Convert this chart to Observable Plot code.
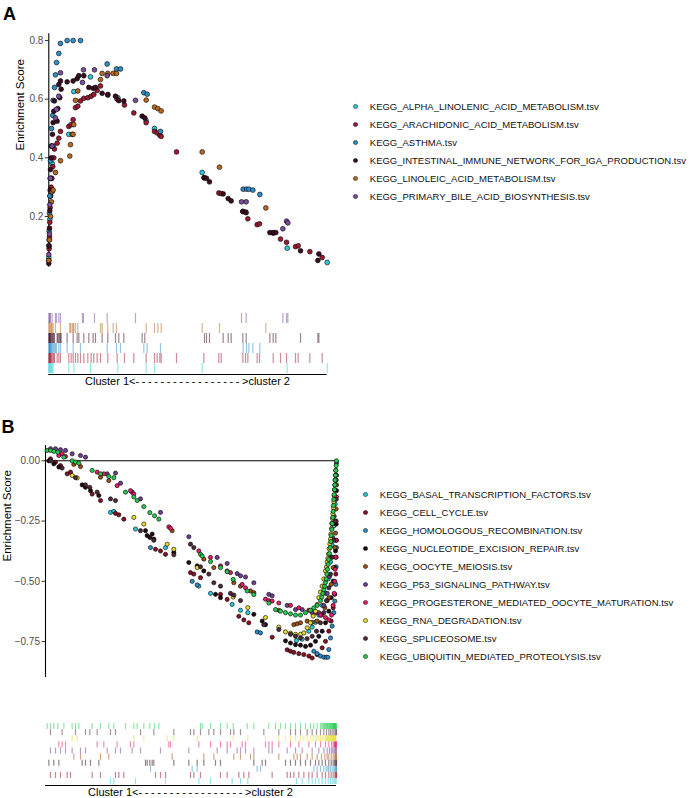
<!DOCTYPE html>
<html><head><meta charset="utf-8">
<script src="https://cdn.jsdelivr.net/npm/d3@7"></script>
<script src="https://cdn.jsdelivr.net/npm/@observablehq/plot@0.6"></script>
<style>
body{margin:0;background:#fff;}
#root{position:relative;width:692px;height:798px;overflow:hidden;font-family:"Liberation Sans",Arial,sans-serif;}
#root svg{position:absolute;overflow:visible;}
.panel{position:absolute;font-weight:bold;font-size:18px;line-height:18px;color:#000;}
.clabel{position:absolute;font-size:11px;line-height:11px;white-space:nowrap;transform:translate(-50%,-50%);color:#000;}
.clabel span{letter-spacing:2.6px;}
</style></head><body><div id="root"></div>
<script>
// ---------- Panel A data: [rank, enrichment score] at each hit ----------
const namesA = [
  "KEGG_ALPHA_LINOLENIC_ACID_METABOLISM.tsv",
  "KEGG_ARACHIDONIC_ACID_METABOLISM.tsv",
  "KEGG_ASTHMA.tsv",
  "KEGG_INTESTINAL_IMMUNE_NETWORK_FOR_IGA_PRODUCTION.tsv",
  "KEGG_LINOLEIC_ACID_METABOLISM.tsv",
  "KEGG_PRIMARY_BILE_ACID_BIOSYNTHESIS.tsv"
];
const colorsA = ["#2ccbdc","#9e1a32","#2f8ec6","#3a0d22","#b8681f","#7b4d9c"];
const alphaLinolenic = [[0,0.06],[1,0.12],[3,0.19],[5,0.27],[8,0.33],[10,0.38],[13,0.44],[60,0.48],[75,0.626],[125,0.676],[207,0.605],[292,0.527],[317,0.50],[460,0.35],[715,0.092],[835,0.043]];
const arachidonic = [[0,0.05],[1,0.09],[2,0.13],[3,0.18],[4,0.23],[5,0.27],[7,0.30],[9,0.33],[12,0.37],[15,0.40],[17,0.43],[25,0.45],[30,0.467],[35,0.49],[60,0.507],[67,0.513],[73,0.53],[80,0.571],[87,0.576],[95,0.594],[105,0.603],[117,0.605],[127,0.61],[135,0.616],[145,0.63],[155,0.645],[177,0.616],[205,0.60],[227,0.58],[255,0.553],[292,0.52],[317,0.49],[325,0.485],[333,0.477],[337,0.473],[383,0.42],[465,0.332],[510,0.28],[517,0.278],[582,0.217],[590,0.215],[597,0.192],[625,0.172],[632,0.175],[673,0.143],[695,0.123],[713,0.112],[740,0.097],[748,0.1],[783,0.08],[820,0.06]];
const asthma = [[0,0.10],[1,0.15],[2,0.21],[3,0.27],[4,0.33],[5,0.39],[7,0.44],[8,0.50],[12,0.545],[13,0.596],[17,0.64],[20,0.683],[23,0.725],[30,0.756],[35,0.79],[55,0.80],[73,0.80],[95,0.80],[175,0.72],[203,0.703],[215,0.703],[285,0.622],[295,0.617],[335,0.49],[583,0.293],[593,0.293],[600,0.293],[612,0.29],[633,0.275]];
const intestinal = [[0,0.04],[1,0.10],[2,0.16],[3,0.22],[4,0.29],[5,0.36],[7,0.40],[9,0.44],[11,0.48],[13,0.52],[15,0.559],[17,0.594],[25,0.525],[27,0.568],[30,0.65],[33,0.605],[35,0.662],[37,0.634],[55,0.659],[73,0.662],[85,0.67],[90,0.68],[105,0.68],[120,0.64],[133,0.637],[140,0.64],[160,0.62],[177,0.614],[200,0.61],[210,0.595],[225,0.594],[280,0.542],[288,0.536],[467,0.332],[473,0.33],[482,0.318],[523,0.277],[538,0.261],[547,0.253],[582,0.217],[592,0.213],[663,0.145],[673,0.145],[681,0.145],[755,0.083],[807,0.05],[810,0.072]];
const linoleic = [[0,0.05],[2,0.12],[5,0.2],[8,0.25],[10,0.284],[13,0.29],[20,0.35],[35,0.39],[63,0.406],[65,0.445],[70,0.48],[73,0.48],[75,0.513],[80,0.596],[87,0.628],[155,0.667],[160,0.688],[177,0.688],[193,0.688],[203,0.688],[292,0.597],[317,0.573],[327,0.568],[337,0.56],[460,0.42],[512,0.368],[651,0.229]];
const primaryBile = [[0,0.07],[2,0.14],[3,0.24],[5,0.33],[10,0.44],[20,0.536],[23,0.565],[30,0.61],[35,0.69],[101,0.657],[104,0.70],[137,0.70],[175,0.68],[260,0.596],[578,0.25],[592,0.25],[702,0.158],[713,0.184],[717,0.178]];
const seriesA = [alphaLinolenic, arachidonic, asthma, intestinal, linoleic, primaryBile];
const ticksA = [0.2, 0.4, 0.6, 0.8];

// ---------- Panel B data ----------
const namesB = [
  "KEGG_BASAL_TRANSCRIPTION_FACTORS.tsv",
  "KEGG_CELL_CYCLE.tsv",
  "KEGG_HOMOLOGOUS_RECOMBINATION.tsv",
  "KEGG_NUCLEOTIDE_EXCISION_REPAIR.tsv",
  "KEGG_OOCYTE_MEIOSIS.tsv",
  "KEGG_P53_SIGNALING_PATHWAY.tsv",
  "KEGG_PROGESTERONE_MEDIATED_OOCYTE_MATURATION.tsv",
  "KEGG_RNA_DEGRADATION.tsv",
  "KEGG_SPLICEOSOME.tsv",
  "KEGG_UBIQUITIN_MEDIATED_PROTEOLYSIS.tsv"
];
const colorsB = ["#28c9dc","#8a1024","#2b8dc9","#1f0a13","#9e4f14","#6d3f8e","#ee1868","#e8db2a","#4e2a3c","#22cc4e"];
const basal = [[195,-0.214],[205,-0.21],[270,-0.283],[360,-0.36],[460,-0.52],[495,-0.55],[560,-0.596],[585,-0.62],[607,-0.63],[753,-0.746],[770,-0.74],[790,-0.707],[800,-0.69],[810,-0.67],[820,-0.64],[830,-0.6],[840,-0.55],[848,-0.49],[855,-0.42],[860,-0.35],[865,-0.27],[869,-0.18],[872,-0.08]];
const cellCycle = [[15,0.008],[30,-0.006],[45,-0.02],[65,-0.054],[75,-0.047],[140,-0.138],[165,-0.165],[210,-0.218],[220,-0.224],[235,-0.242],[330,-0.367],[345,-0.374],[360,-0.388],[435,-0.464],[445,-0.47],[465,-0.485],[525,-0.554],[545,-0.575],[580,-0.645],[595,-0.66],[610,-0.672],[680,-0.732],[725,-0.784],[735,-0.79],[745,-0.795],[760,-0.8],[775,-0.804],[790,-0.81],[800,-0.818],[815,-0.804],[830,-0.776],[840,-0.749],[850,-0.707],[857,-0.665],[863,-0.61],[868,-0.554],[871,-0.47],[872,-0.4],[873,-0.33]];
const homologous = [[315,-0.36],[440,-0.5],[455,-0.515],[635,-0.71],[645,-0.714],[805,-0.79],[815,-0.8],[825,-0.81],[835,-0.815],[842,-0.815],[847,-0.815],[850,-0.783],[855,-0.735],[860,-0.686],[865,-0.63],[868,-0.582],[871,-0.513],[872,-0.44],[873,-0.36]];
const nucleotide = [[10,0],[25,-0.0125],[40,-0.026],[110,-0.1],[120,-0.11],[135,-0.124],[160,-0.144],[300,-0.29],[305,-0.31],[313,-0.318],[320,-0.304],[325,-0.325],[385,-0.38],[430,-0.422],[455,-0.436],[475,-0.457],[510,-0.554],[525,-0.568],[625,-0.637],[650,-0.665],[660,-0.68],[720,-0.747],[735,-0.756],[750,-0.763],[765,-0.765],[780,-0.77],[795,-0.765],[810,-0.749],[820,-0.728],[830,-0.707],[840,-0.672],[850,-0.624],[857,-0.568],[863,-0.499],[867,-0.443],[870,-0.374],[872,-0.263],[873,-0.124]];
const oocyte = [[85,-0.015],[105,-0.024],[165,-0.068],[190,-0.082],[380,-0.29],[475,-0.408],[505,-0.443],[565,-0.506],[585,-0.52],[615,-0.54],[625,-0.547],[700,-0.62],[745,-0.68],[755,-0.676],[765,-0.672],[785,-0.665],[800,-0.67],[815,-0.665],[828,-0.64],[838,-0.61],[845,-0.58],[850,-0.568],[857,-0.513],[863,-0.443],[868,-0.36],[870,-0.3],[872,-0.2],[873,-0.1]];
const p53 = [[15,0.05],[30,0.05],[45,0.046],[60,0.043],[80,0.029],[105,0.022],[120,0.015],[185,-0.054],[210,-0.051],[225,-0.093],[260,-0.13],[285,-0.158],[345,-0.214],[430,-0.315],[515,-0.401],[545,-0.426],[575,-0.468],[585,-0.477],[600,-0.482],[625,-0.506],[670,-0.554],[680,-0.56],[725,-0.6],[750,-0.617],[770,-0.617],[800,-0.63],[820,-0.63],[835,-0.6],[845,-0.55],[852,-0.48],[858,-0.4],[862,-0.32],[866,-0.23],[869,-0.15],[871,-0.08],[873,-0.01]];
const progesterone = [[40,0.022],[50,0.029],[60,0.018],[155,-0.047],[175,-0.054],[215,-0.103],[255,-0.124],[265,-0.138],[370,-0.274],[375,-0.28],[460,-0.374],[495,-0.401],[525,-0.436],[545,-0.457],[555,-0.464],[590,-0.513],[600,-0.527],[660,-0.574],[670,-0.58],[680,-0.582],[700,-0.59],[735,-0.6],[760,-0.61],[790,-0.62],[810,-0.63],[825,-0.64],[840,-0.65],[850,-0.66],[858,-0.64],[863,-0.6],[866,-0.55],[868,-0.5],[869,-0.45],[870,-0.4],[871,-0.33],[872,-0.25],[873,-0.15]];
const rnaDegradation = [[80,-0.061],[95,-0.071],[265,-0.235],[295,-0.2625],[365,-0.346],[385,-0.367],[455,-0.443],[563,-0.565],[607,-0.609],[660,-0.65],[700,-0.69],[720,-0.71],[735,-0.715],[750,-0.72],[765,-0.72],[775,-0.714],[785,-0.693],[795,-0.672],[803,-0.644],[810,-0.624],[815,-0.596],[820,-0.568],[825,-0.545],[830,-0.52],[835,-0.49],[840,-0.457],[843,-0.44],[845,-0.42],[847,-0.405],[849,-0.387],[851,-0.365],[853,-0.345],[855,-0.325],[856,-0.304],[858,-0.28],[859,-0.26],[861,-0.24],[862,-0.22],[864,-0.195],[865,-0.17],[866,-0.145],[867,-0.12],[868,-0.1],[869,-0.08],[870,-0.06],[871,-0.04]];
const spliceosome = [[15,0.0],[50,-0.03],[90,-0.07],[120,-0.1],[133,-0.11],[155,-0.13],[195,-0.158],[210,-0.165],[285,-0.29],[325,-0.33],[385,-0.39],[435,-0.346],[445,-0.36],[465,-0.44],[490,-0.47],[505,-0.506],[525,-0.52],[555,-0.55],[565,-0.557],[585,-0.58],[655,-0.68],[700,-0.7],[735,-0.72],[750,-0.728],[765,-0.735],[785,-0.738],[800,-0.728],[813,-0.707],[825,-0.672],[835,-0.63],[843,-0.58],[850,-0.527],[855,-0.47],[860,-0.4],[865,-0.33],[869,-0.25],[872,-0.16],[873,-0.06]];
const ubiquitin = [[5,0.043],[15,0.043],[25,0.039],[37,0.036],[55,0.015],[80,0],[90,-0.005],[100,-0.01],[140,-0.04],[165,-0.054],[190,-0.065],[205,-0.07],[240,-0.13],[265,-0.15],[275,-0.165],[295,-0.19],[313,-0.215],[327,-0.228],[340,-0.242],[465,-0.388],[470,-0.395],[495,-0.418],[525,-0.443],[545,-0.46],[563,-0.492],[605,-0.54],[625,-0.555],[670,-0.59],[690,-0.617],[705,-0.624],[720,-0.63],[735,-0.635],[750,-0.64],[765,-0.64],[780,-0.63],[795,-0.62],[805,-0.61],[815,-0.6],[825,-0.58],[829,-0.565],[832,-0.55],[835,-0.535],[837,-0.52],[840,-0.505],[842,-0.49],[844,-0.47],[846,-0.45],[848,-0.43],[850,-0.41],[852,-0.385],[854,-0.36],[856,-0.335],[857,-0.31],[859,-0.285],[860,-0.26],[862,-0.235],[863,-0.21],[864,-0.185],[865,-0.16],[866,-0.14],[867,-0.12],[868,-0.1],[869,-0.08],[870,-0.06],[871,-0.04],[872,-0.02],[873,0]];
const seriesB = [basal, cellCycle, homologous, nucleotide, oocyte, p53, progesterone, rnaDegradation, spliceosome, ubiquitin];
const ticksB = [0, -0.25, -0.5, -0.75];

const rugLabel = ["Cluster 1<", "-----------------", ">cluster 2"];

// ---------- helpers ----------
const FONT = '"Liberation Sans", Arial, Helvetica, sans-serif';
const root = document.getElementById("root");
function place(el, left, top) { el.style.left = left + "px"; el.style.top = top + "px"; root.appendChild(el); return el; }
const toRows = (series, names) => series.flatMap((pts, i) => pts.map(([rank, es]) => ({series: names[i], idx: i, rank, es})));
const rowsA = toRows(seriesA, namesA);
const rowsB = toRows(seriesB, namesB);

function esPlot(rows, names, colors, o) {
  return Plot.plot({
    width: o.width, height: o.height,
    marginLeft: o.ml, marginRight: o.mr, marginTop: o.mt, marginBottom: o.mb,
    x: {domain: o.xdomain, axis: null},
    y: {domain: o.ydomain, axis: null},
    color: {domain: names, range: colors},
    style: {fontFamily: FONT, background: "transparent", overflow: "visible"},
    marks: [
      Plot.axisY({ticks: o.ticks, tickFormat: d3.format(o.fmt), tickSize: 3.5, tickPadding: 2, fontSize: 10, stroke: "#333", fill: "#4d4d4d", label: null}),
      ...(o.zero ? [Plot.ruleY([0], {stroke: "#000", strokeWidth: 1.1})] : []),
      Plot.ruleX([o.xdomain[0]], {stroke: "#000", strokeWidth: 1.1}),
      Plot.dot(rows, {x: "rank", y: "es", fill: "series", stroke: "#000", strokeWidth: 0.6, r: o.r}),
      Plot.text(["Enrichment Score"], {frameAnchor: "left", dx: o.labelDx, rotate: -90, fontSize: 11.5, fill: "#000"})
    ]
  });
}

function rugPlot(rows, names, colors, o) {
  return Plot.plot({
    width: o.width, height: o.height,
    marginLeft: o.ml, marginRight: o.mr, marginTop: o.mt, marginBottom: o.mb,
    x: {domain: o.xdomain, axis: null},
    y: {domain: [o.base, names.length], axis: null},
    color: {domain: names, range: colors},
    style: {fontFamily: FONT, background: "transparent", overflow: "visible"},
    marks: [
      Plot.ruleX(rows, {x: "rank", y1: d => d.idx, y2: d => d.idx + 1, stroke: "series", strokeOpacity: 0.5, strokeWidth: 1.2}),
      Plot.ruleY([o.base], {stroke: "#000", strokeWidth: 1.2})
    ]
  });
}

function legendPlot(names, colors, o) {
  return Plot.plot({
    width: 352, height: o.height, margin: 0,
    y: {type: "point", domain: names, range: o.range, padding: 0, axis: null},
    color: {domain: names, range: colors},
    style: {fontFamily: FONT, background: "transparent", overflow: "visible"},
    marks: [
      Plot.dot(names, {y: d => d, frameAnchor: "left", dx: o.dotDx, r: 2.1, fill: d => d, stroke: "#000", strokeWidth: 0.5}),
      Plot.text(names, {y: d => d, text: d => d, frameAnchor: "left", dx: o.textDx, textAnchor: "start", fontSize: 9.5, fill: "#111"})
    ]
  });
}

function addLabel(text, left, top) {
  const d = document.createElement("div"); d.className = "panel"; d.textContent = text; place(d, left, top);
}
function addRugLabel(cx, cy) {
  const d = document.createElement("div"); d.className = "clabel";
  d.appendChild(document.createTextNode(rugLabel[0]));
  const s = document.createElement("span"); s.textContent = rugLabel[1]; d.appendChild(s);
  d.appendChild(document.createTextNode(rugLabel[2]));
  place(d, cx, cy);
}

// ---------- Panel A ----------
addLabel("A", 3, 4.6);
place(esPlot(rowsA, namesA, colorsA, {width: 340, height: 272, ml: 48.3, mr: 13.3, mt: 33.3, mb: 5.3,
  xdomain: [0, 835], ydomain: [0.027, 0.823], ticks: ticksA, fmt: ".1f", r: 2.4, labelDx: -28, zero: false}), 0, 0);
place(legendPlot(namesA, colorsA, {height: 120, range: [15, 107.3], dotDx: 15, textDx: 29.3}), 340, 90);
place(rugPlot(rowsA, namesA, colorsA, {width: 340, height: 100, ml: 48.3, mr: 13.3, mt: 13, mb: 26,
  xdomain: [0, 835], base: -0.1}), 0, 300);
addRugLabel(187.5, 381);

// ---------- Panel B ----------
addLabel("B", 1.5, 417.6);
place(esPlot(rowsB, namesB, colorsB, {width: 345, height: 300, ml: 45, mr: 9, mt: 55, mb: 13,
  xdomain: [0, 873], ydomain: [-0.899, 0.0635], ticks: ticksB, fmt: ".2f", r: 2.1, labelDx: -38.5, zero: true}), 0, 390);
place(legendPlot(namesB, colorsB, {height: 200, range: [20, 189], dotDx: 25, textDx: 39.3}), 340, 470);
place(rugPlot(rowsB, namesB, colorsB, {width: 345, height: 100, ml: 45, mr: 9, mt: 23, mb: 15,
  xdomain: [0, 873], base: -0.15}), 0, 700);
addRugLabel(190.5, 791.7);
</script></body></html>
